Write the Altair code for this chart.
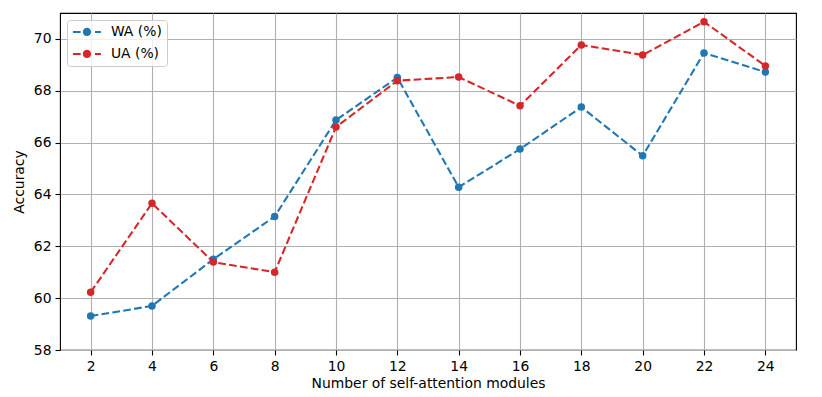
import altair as alt
import pandas as pd

modules = [2, 4, 6, 8, 10, 12, 14, 16, 18, 20, 22, 24]
wa = [59.31, 59.70, 61.50, 63.15, 66.87, 68.51, 64.28, 65.75, 67.37, 65.49, 69.46, 68.72]
ua = [60.23, 63.66, 61.39, 61.00, 66.60, 68.39, 68.53, 67.42, 69.77, 69.38, 70.66, 68.96]
series_names = ["WA (%)", "UA (%)"]
series_colors = ["#1f77b4", "#d62728"]
x_ticks = list(range(2, 25, 2))
y_ticks = list(range(58, 71, 2))

rows = []
for name, vals in zip(series_names, [wa, ua]):
    for m, v in zip(modules, vals):
        rows.append({"modules": m, "acc": v, "series": name})
df = pd.DataFrame(rows)

FONT = "DejaVu Sans"
FS = 13.9

# legend symbol: dashed line + filled circle, built only from filled shapes
legend_path = (
    "M-7,-0.52 H-3.15 V0.52 H-7 Z "
    "M3.99,-0.52 H7 V0.52 H3.99 Z "
    "M-2.07,0 A2.07,2.07 0 1,1 2.07,0 A2.07,2.07 0 1,1 -2.07,0 Z"
)

x_enc = alt.X(
    "modules:Q",
    scale=alt.Scale(domain=[1, 25], nice=False, zero=False),
    axis=alt.Axis(values=x_ticks, title="Number of self-attention modules", format="d"),
)
y_enc = alt.Y(
    "acc:Q",
    scale=alt.Scale(domain=[58, 71], nice=False, zero=False),
    axis=alt.Axis(values=y_ticks, title="Accuracy", format="d"),
)

color_enc = alt.Color(
    "series:N",
    scale=alt.Scale(domain=series_names, range=series_colors),
    sort=series_names,
    legend=alt.Legend(
        title=None,
        orient="none",
        legendX=7,
        legendY=7,
        symbolType=legend_path,
        symbolSize=16,
        symbolStrokeWidth=0,
        symbolOpacity=1,
        symbolOffset=8,
        labelOffset=17,
        rowPadding=7,
        columnPadding=0,
        padding=5,
        labelFont=FONT,
        labelFontSize=FS,
        labelColor="black",
        fillColor="rgba(255,255,255,0.8)",
        strokeColor="#cccccc",
        cornerRadius=3,
    ),
)

layers = []
for name, col in zip(series_names, series_colors):
    base = alt.Chart(df).transform_filter(alt.datum.series == name)
    line = base.mark_line(strokeDash=[7.7, 3.3], strokeWidth=2.08, color=col).encode(
        x=x_enc, y=y_enc
    )
    pts = base.mark_circle(size=56, opacity=1).encode(x=x_enc, y=y_enc, color=color_enc)
    layers += [line, pts]

chart = (
    alt.layer(*layers)
    .properties(
        width=736,
        height=337,
        autosize=alt.AutoSizeParams(type="none"),
        padding={"left": 52, "top": 5, "right": 18, "bottom": 40},
    )
    .configure_view(stroke="black", strokeWidth=1.1)
    .configure_axis(
        labelFont=FONT,
        labelFontSize=FS,
        labelColor="black",
        titleFont=FONT,
        titleFontSize=FS,
        titleFontWeight="normal",
        titleColor="black",
        tickColor="black",
        tickSize=5,
        tickWidth=1.1,
        labelPadding=4,
        domain=False,
        grid=True,
        gridColor="#b0b0b0",
        gridWidth=1.1,
    )
    .configure_axisY(titlePadding=7)
    .configure_axisX(titlePadding=4)
)

chart.save("out.html", embed_options={"renderer": "svg", "actions": False})
